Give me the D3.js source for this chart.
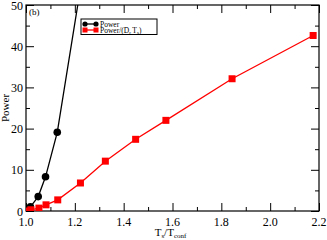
<!DOCTYPE html>
<html>
<head>
<meta charset="utf-8">
<script src="https://cdn.jsdelivr.net/npm/d3@7"></script>
<style>
  body { margin: 0; background: #fff; }
  svg { font-family: "Liberation Serif", "DejaVu Serif", serif; }
</style>
</head>
<body>
<div id="chart-container"></div>
<script>
// data
const powerX = [1.0, 1.018, 1.05, 1.08, 1.128, 1.25];
const powerY = [0.0, 1.0, 3.5, 8.3, 19.1, 64.0];
const normX = [1.0, 1.02, 1.053, 1.082, 1.13, 1.223, 1.325, 1.449, 1.573, 1.844, 2.176];
const normY = [0.0, 0.3, 0.7, 1.5, 2.7, 6.8, 12.1, 17.4, 22.0, 32.1, 42.6];
const xTicks = [1.0, 1.2, 1.4, 1.6, 1.8, 2.0, 2.2];
const yTicks = [0, 10, 20, 30, 40, 50];

const margin = { top: 5, right: 8, bottom: 29, left: 26 };
const width = 327 - margin.left - margin.right;
const height = 240 - margin.top - margin.bottom;

const svg = d3.select("#chart-container")
    .append("svg")
    .attr("width", 327)
    .attr("height", 240)
    .append("g")
    .attr("transform", `translate(${margin.left}, ${margin.top})`);

const xScale = d3.scaleLinear().domain([1.0, 2.2]).range([0, width]);
const yScale = d3.scaleLinear().domain([0, 50]).range([height, 0]);

svg.append("defs").append("clipPath").attr("id", "clip")
    .append("rect").attr("width", width).attr("height", height);

// ticks: major inward + minor, mirrored on top/right
const minorX = d3.range(1.1, 2.2, 0.2);
const minorY = d3.range(5, 50, 10);
function drawAxis(axis, ticks, len, transform) {
    const g = svg.append("g").attr("transform", transform)
        .call(axis.tickValues(ticks).tickSizeInner(len).tickSizeOuter(0).tickFormat(""));
    g.select(".domain").remove();
    g.selectAll("line").attr("stroke", "#000").attr("stroke-width", 1);
    return g;
}
drawAxis(d3.axisTop(xScale), xTicks, 8, `translate(0,${height})`);
drawAxis(d3.axisTop(xScale), minorX, 4, `translate(0,${height})`);
drawAxis(d3.axisBottom(xScale), xTicks, 8, "translate(0,0)");
drawAxis(d3.axisBottom(xScale), minorX, 4, "translate(0,0)");
drawAxis(d3.axisRight(yScale), yTicks, 8, "translate(0,0)");
drawAxis(d3.axisRight(yScale), minorY, 4, "translate(0,0)");
drawAxis(d3.axisLeft(yScale), yTicks, 8, `translate(${width},0)`);
drawAxis(d3.axisLeft(yScale), minorY, 4, `translate(${width},0)`);

// tick labels
svg.selectAll(".xlab").data(xTicks).enter().append("text")
    .attr("x", d => xScale(d)).attr("y", height + 14.5)
    .attr("text-anchor", "middle").style("font-size", "12px")
    .text(d => d.toFixed(1));
svg.selectAll(".ylab").data(yTicks).enter().append("text")
    .attr("x", -3).attr("y", d => yScale(d) + 4.5)
    .attr("text-anchor", "end").style("font-size", "12px")
    .text(d => d);

// frame
svg.append("rect").attr("width", width).attr("height", height)
    .attr("fill", "none").attr("stroke", "#000").attr("stroke-width", 1.2);

// axis titles
const xt = svg.append("text").attr("x", xScale(1.6) - 2).attr("y", height + 25)
    .attr("text-anchor", "middle").style("font-size", "11px");
xt.append("tspan").text("T");
xt.append("tspan").attr("dy", 2).style("font-size", "7px").text("s");
xt.append("tspan").attr("dy", -2).text("/T");
xt.append("tspan").attr("dy", 2).style("font-size", "7px").text("conf");

svg.append("text")
    .attr("transform", `translate(${-17}, ${height / 2}) rotate(-90)`)
    .attr("text-anchor", "middle").style("font-size", "11px")
    .text("Power");

svg.append("text").attr("x", 3).attr("y", 10).style("font-size", "9px").text("(b)");

// series
const line = d3.line().x(d => xScale(d[0])).y(d => yScale(d[1]));
const plot = svg.append("g").attr("clip-path", "url(#clip)");

const blackData = d3.zip(powerX, powerY);
const redData = d3.zip(normX, normY);

plot.append("path").datum(blackData).attr("d", line)
    .attr("fill", "none").attr("stroke", "#000").attr("stroke-width", 1.3);
plot.selectAll(".dot").data(blackData).enter().append("circle")
    .attr("cx", d => xScale(d[0])).attr("cy", d => yScale(d[1]))
    .attr("r", 3.8).attr("fill", "#000");

plot.append("path").datum(redData).attr("d", line)
    .attr("fill", "none").attr("stroke", "#ff0000").attr("stroke-width", 1.3);
plot.selectAll(".sq").data(redData).enter().append("rect")
    .attr("x", d => xScale(d[0]) - 3.5).attr("y", d => yScale(d[1]) - 3.5)
    .attr("width", 7).attr("height", 7).attr("fill", "#ff0000");

// legend
const lg = svg.append("g").attr("transform", "translate(55, 14)");
lg.append("rect").attr("width", 76).attr("height", 15.5)
    .attr("fill", "#fff").attr("stroke", "#000").attr("stroke-width", 1);
lg.append("line").attr("x1", 4).attr("x2", 15).attr("y1", 5).attr("y2", 5)
    .attr("stroke", "#000").attr("stroke-width", 1.3);
lg.append("circle").attr("cx", 4).attr("cy", 5).attr("r", 2.6).attr("fill", "#000");
lg.append("circle").attr("cx", 15).attr("cy", 5).attr("r", 2.6).attr("fill", "#000");
lg.append("text").attr("x", 19).attr("y", 7.5).style("font-size", "7.5px").text("Power");

lg.append("line").attr("x1", 4).attr("x2", 15).attr("y1", 11).attr("y2", 11)
    .attr("stroke", "#ff0000").attr("stroke-width", 1.3);
lg.append("rect").attr("x", 1.5).attr("y", 8.5).attr("width", 5).attr("height", 5).attr("fill", "#ff0000");
lg.append("rect").attr("x", 12.5).attr("y", 8.5).attr("width", 5).attr("height", 5).attr("fill", "#ff0000");
const lt = lg.append("text").attr("x", 19).attr("y", 13.5).style("font-size", "7.5px");
lt.append("tspan").text("Power/(D");
lt.append("tspan").attr("dy", 1.5).style("font-size", "5px").text("r");
lt.append("tspan").attr("dy", -1.5).text("\u2009T");
lt.append("tspan").attr("dy", 1.5).style("font-size", "5px").text("s");
lt.append("tspan").attr("dy", -1.5).text(")");
</script>
</body>
</html>
